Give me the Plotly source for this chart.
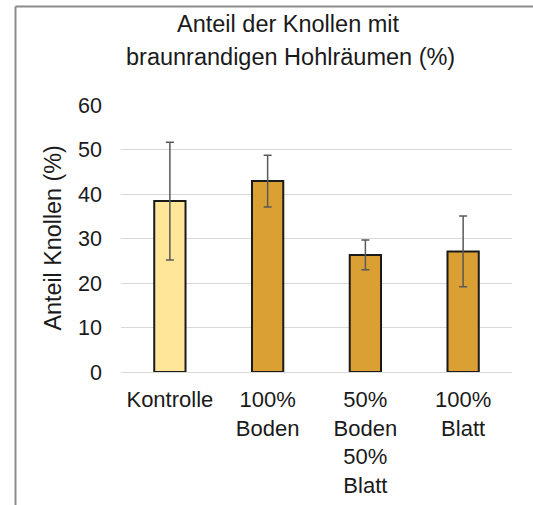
import plotly.graph_objects as go

categories = ["Kontrolle", "100%<br>Boden", "50%<br>Boden<br>50%<br>Blatt", "100%<br>Blatt"]
values = [38.4, 42.9, 26.3, 27.1]
errors = [13.25, 5.8, 3.35, 7.95]
bar_colors = ["#FFE699", "#DAA033", "#DAA033", "#DAA033"]
y_ticks = [0, 10, 20, 30, 40, 50, 60]
title_lines = ["Anteil der Knollen mit", "braunrandigen Hohlräumen (%)"]
y_title = "Anteil Knollen (%)"

W, H = 533, 505
L, R, T, B = 121, 21, 105, 133
pw, ph = W - L - R, H - T - B

def px_x(p):
    return (p - L) / pw

def px_y(p):
    return (H - B - p) / ph

FONT = "Liberation Sans, Arial, sans-serif"

fig = go.Figure(go.Bar(
    x=categories, y=values,
    marker=dict(color=bar_colors, line=dict(color="#1a1a1a", width=2)),
    width=0.32,
    error_y=dict(type="data", array=errors, visible=True, color="#595959", thickness=1.5, width=4),
))

fig.update_layout(
    width=W, height=H,
    margin=dict(l=L, r=R, t=T, b=B, pad=0),
    paper_bgcolor="white", plot_bgcolor="white",
    showlegend=False,
    font=dict(family=FONT, color="#1a1a1a", size=21),
    xaxis=dict(showline=False, showgrid=False, ticks="", tickfont=dict(size=22),
               ticklabelstandoff=12, automargin=False),
    yaxis=dict(range=[0, 60], tickvals=y_ticks, showgrid=True, gridcolor="#D9D9D9",
               gridwidth=1.3, zeroline=True, zerolinecolor="#D9D9D9", zerolinewidth=1.3,
               showline=False, ticks="", tickfont=dict(size=21.5), ticklabelstandoff=18,
               automargin=False),
    annotations=[
        dict(text=title_lines[0], x=px_x(288), y=px_y(23.5), xref="paper", yref="paper",
             xanchor="center", yanchor="middle", showarrow=False, font=dict(size=23.5)),
        dict(text=title_lines[1], x=px_x(290), y=px_y(57), xref="paper", yref="paper",
             xanchor="center", yanchor="middle", showarrow=False, font=dict(size=23.5)),
        dict(text=y_title, x=px_x(52), y=0.5, xref="paper", yref="paper", textangle=-90,
             xanchor="center", yanchor="middle", showarrow=False, font=dict(size=23.3)),
    ],
    shapes=[
        dict(type="line", xref="paper", yref="paper", x0=px_x(15.5), x1=px_x(15.5),
             y0=px_y(6.5), y1=px_y(H + 5), line=dict(color="#8c8c8c", width=2)),
        dict(type="line", xref="paper", yref="paper", x0=px_x(15.5), x1=px_x(W + 5),
             y0=px_y(6.5), y1=px_y(6.5), line=dict(color="#8c8c8c", width=2)),
    ],
)

fig.write_html("out.html", config={"displayModeBar": False},
               post_script="document.body.style.margin='0';document.body.style.padding='0';")
